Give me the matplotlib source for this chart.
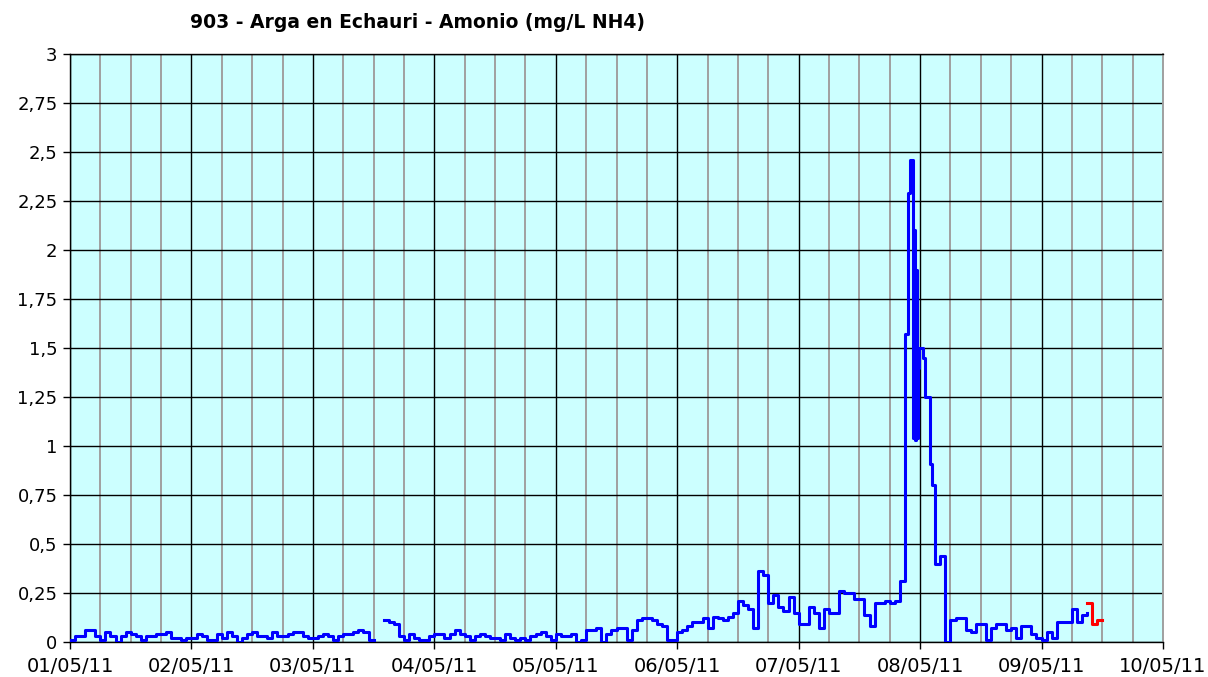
import datetime
import numpy as np
import matplotlib
matplotlib.use('Agg')
import matplotlib.pyplot as plt
import matplotlib.dates as mdates
from matplotlib.ticker import MultipleLocator, FuncFormatter

nan = np.nan

# hourly readings (mg/L NH4), one list per day starting 01/05/11 00:00
dia1 = [0.01, 0.03, 0.03, 0.06, 0.06, 0.03, 0.01, 0.05, 0.03, 0.00, 0.03, 0.05,
        0.04, 0.03, 0.01, 0.03, 0.03, 0.04, 0.04, 0.05, 0.02, 0.02, 0.01, 0.02]
dia2 = [0.02, 0.04, 0.03, 0.01, 0.01, 0.04, 0.02, 0.05, 0.03, 0.00, 0.02, 0.04,
        0.05, 0.03, 0.03, 0.02, 0.05, 0.03, 0.03, 0.04, 0.05, 0.05, 0.03, 0.02]
dia3 = [0.02, 0.03, 0.04, 0.03, 0.01, 0.03, 0.04, 0.04, 0.05, 0.06, 0.05, 0.01,
        nan, nan, 0.11, 0.10, 0.09, 0.03, 0.01, 0.04, 0.02, 0.01, 0.01, 0.03]
dia4 = [0.04, 0.04, 0.02, 0.04, 0.06, 0.04, 0.03, 0.01, 0.03, 0.04, 0.03, 0.02,
        0.02, 0.01, 0.04, 0.02, 0.01, 0.02, 0.01, 0.03, 0.04, 0.05, 0.03, 0.01]
dia5 = [0.04, 0.03, 0.03, 0.04, 0.00, 0.01, 0.06, 0.06, 0.07, 0.00, 0.04, 0.06,
        0.07, 0.07, 0.01, 0.06, 0.11, 0.12, 0.12, 0.11, 0.09, 0.08, 0.01, 0.01]
dia6 = [0.05, 0.06, 0.08, 0.10, 0.10, 0.12, 0.07, 0.13, 0.12, 0.11, 0.13, 0.15,
        0.21, 0.19, 0.17, 0.07, 0.36, 0.34, 0.20, 0.24, 0.18, 0.16, 0.23, 0.15]
# 07/05 00:00 -> 20:00
dia7 = [0.09, 0.09, 0.18, 0.15, 0.07, 0.17, 0.15, 0.15, 0.26, 0.25, 0.25, 0.22,
        0.22, 0.14, 0.08, 0.20, 0.20, 0.21, 0.20, 0.21, 0.31]
# the peak, every 10 minutes from 07/05 21:00 to 08/05 02:50
pico = [1.57, 1.57, 1.57, 1.57, 2.29, 2.29, 2.46, 2.46, 2.46, 2.22, 1.04, 2.10,
        1.03, 1.90, 1.04, 1.40, 1.40, 1.50, 1.50, 1.50, 1.50, 1.45, 1.45, 1.45,
        1.25, 1.25, 1.25, 1.25, 1.25, 1.25, 0.91, 0.91, 0.80, 0.80, 0.80, 0.80]
# hourly again from 08/05 03:00 to 09/05 09:00
despues = [0.40, 0.44, 0.00, 0.11, 0.12, 0.12, 0.06, 0.05, 0.09, 0.09, 0.01,
           0.07, 0.09, 0.09, 0.06, 0.07, 0.02, 0.08, 0.08, 0.04, 0.02,
           0.01, 0.05, 0.02, 0.10, 0.10, 0.10, 0.17, 0.10, 0.14, 0.15]
# last values (red), from 09/05 09:00
ultimos = [0.20, 0.09, 0.11, 0.11]

inicio = mdates.date2num(datetime.datetime(2011, 5, 1))

horario = dia1 + dia2 + dia3 + dia4 + dia5 + dia6 + dia7
h1 = np.arange(len(horario))
h2 = 165 + np.arange(len(pico)) / 6.0
h3 = 171 + np.arange(len(despues))
horas = np.concatenate([h1, h2, h3])
valores = np.array(horario + pico + despues)
t = inicio + horas / 24.0
t_rojo = inicio + (201 + np.arange(len(ultimos))) / 24.0

fig = plt.figure(figsize=(12.08, 6.77), dpi=100)
ax = fig.add_axes([70 / 1208, 1 - 642 / 677, 1093 / 1208, 588 / 677])
ax.set_facecolor('#CCFFFF')

ax.plot(t, valores, color='#0000FF', lw=2.2, drawstyle='steps-post', zorder=3)
ax.plot(t_rojo, ultimos, color='#FF0000', lw=2.2, drawstyle='steps-post', zorder=3)

ax.set_xlim(inicio, inicio + 9)
ax.set_ylim(0, 3)

ax.xaxis.set_major_locator(mdates.DayLocator())
ax.xaxis.set_major_formatter(mdates.DateFormatter('%d/%m/%y'))
ax.xaxis.set_minor_locator(mdates.HourLocator(byhour=[6, 12, 18]))
ax.yaxis.set_major_locator(MultipleLocator(0.25))
ax.yaxis.set_major_formatter(FuncFormatter(lambda v, p: ('%g' % v).replace('.', ',')))

ax.grid(True, which='major', axis='both', color='black', lw=1.0)
ax.grid(True, which='minor', axis='x', color='#A0A0A0', lw=1.4)
ax.set_axisbelow(True)

ax.tick_params(axis='both', which='major', direction='out', length=5, width=1,
               colors='black', pad=4)
ax.tick_params(axis='y', which='major', labelsize=13)
ax.tick_params(axis='x', which='major', labelsize=14, pad=6)
ax.tick_params(axis='x', which='minor', length=0)

for lado in ['left', 'bottom', 'top']:
    ax.spines[lado].set_color('black')
    ax.spines[lado].set_linewidth(1.0)
ax.spines['right'].set_color('#A0A0A0')
ax.spines['right'].set_linewidth(1.4)

fig.text(417 / 1208, 1 - 22 / 677, '903 - Arga en Echauri - Amonio (mg/L NH4)',
         ha='center', va='center', fontsize=13.5, fontweight='bold')

fig.savefig('out.png', dpi=100)
